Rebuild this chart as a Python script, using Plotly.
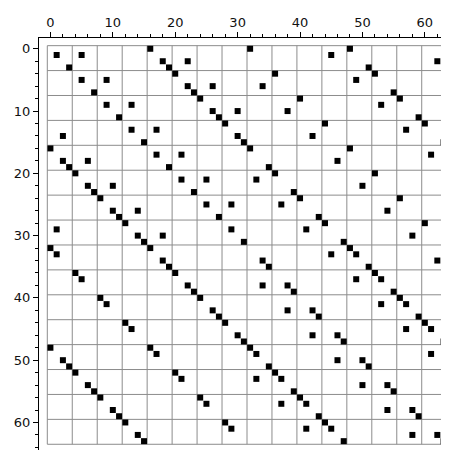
import plotly.graph_objects as go

# ---- data: column indices of the non-zero entries of each row (64 x 64 matrix) ----
n_size = 64
nonzero_cols = [
    [16, 32, 48], [1, 5, 45], [18, 22, 62], [3, 19, 51],
    [20, 36, 52], [5, 9, 49], [22, 26, 34], [7, 23, 55],
    [24, 40, 56], [9, 13, 53], [26, 30, 38], [11, 27, 59],
    [28, 44, 60], [13, 17, 57], [2, 30, 42], [15, 31, 63],
    [0, 32, 48], [17, 21, 61], [2, 6, 46], [3, 19, 35],
    [4, 36, 52], [21, 25, 33], [6, 10, 50], [7, 23, 39],
    [8, 40, 56], [25, 29, 37], [10, 14, 54], [11, 27, 43],
    [12, 44, 60], [1, 29, 41], [14, 18, 58], [15, 31, 47],
    [0, 16, 48], [1, 45, 49], [18, 34, 62], [19, 35, 51],
    [4, 20, 52], [5, 49, 53], [22, 34, 38], [23, 39, 55],
    [8, 24, 56], [9, 53, 57], [26, 38, 42], [27, 43, 59],
    [12, 28, 60], [13, 57, 61], [30, 42, 46], [31, 47, 63],
    [0, 16, 32], [17, 33, 61], [2, 46, 50], [3, 35, 51],
    [4, 20, 36], [21, 33, 37], [6, 50, 54], [7, 39, 55],
    [8, 24, 40], [25, 37, 41], [10, 54, 58], [11, 43, 59],
    [12, 28, 44], [29, 41, 45], [14, 58, 62], [15, 47, 63],
]
block_size = 4
tick_vals = [0, 10, 20, 30, 40, 50, 60]
tick_text = ["0", "10", "20", "30", "40", "50", "60"]

rows = [r for r, cs in enumerate(nonzero_cols) for _ in cs]
cols = [c for cs in nonzero_cols for c in cs]

# block grid lines (every 4 cells), as one line trace with gaps
lo, hi = -0.5, n_size - 0.5
gx, gy = [], []
for k in range(0, n_size + 1, block_size):
    v = k - 0.5
    gx += [v, v, None, lo, hi, None]
    gy += [lo, hi, None, v, v, None]

fig = go.Figure()
fig.add_trace(go.Scatter(x=gx, y=gy, mode="lines",
                         line=dict(color="#8c8c8c", width=1),
                         hoverinfo="skip", connectgaps=False))
fig.add_trace(go.Scatter(
    x=cols, y=rows, mode="markers",
    marker=dict(symbol="square", size=6, color="black", line=dict(width=0)),
    hoverinfo="skip",
))

font = dict(family="DejaVu Sans", size=13, color="#111111")
axis_common = dict(
    tickmode="array", tickvals=tick_vals, ticktext=tick_text,
    ticks="outside", ticklen=5, tickwidth=1, tickcolor="black",
    showline=True, linecolor="black", linewidth=1, mirror=False,
    showgrid=False, zeroline=False, tickfont=font,
    minor=dict(ticks="outside", ticklen=3, tickwidth=1, tickcolor="black",
               tick0=0, dtick=2, showgrid=False),
)

# the page body has an 8px default margin, so the figure is shifted by 8px;
# the size/margins below compensate so the axes land where the reference has them
fig.update_layout(
    width=441, height=442,
    margin=dict(l=31, r=0, t=30, b=0),
    paper_bgcolor="white", plot_bgcolor="white",
    showlegend=False,
    xaxis=dict(range=[-1.83, 63.87], side="top", **axis_common),
    yaxis=dict(range=[64.42, -1.73], **axis_common),
)

fig.write_html("out.html")
